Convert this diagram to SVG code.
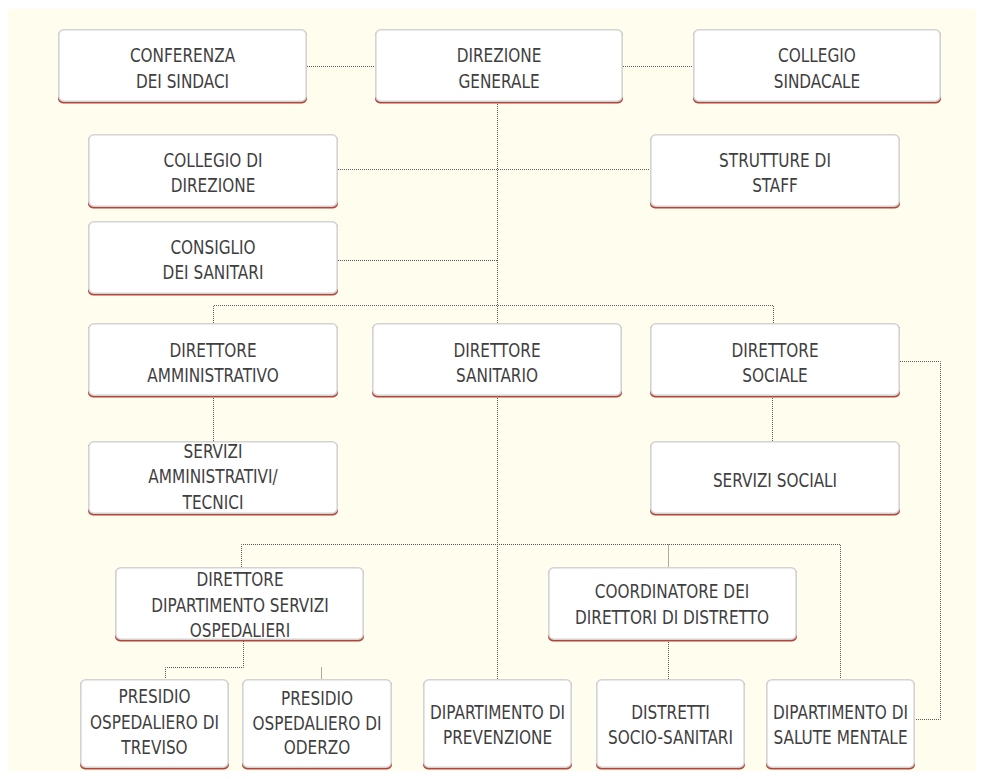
<svg xmlns="http://www.w3.org/2000/svg" width="984" height="779" viewBox="0 0 984 779">
<defs>
<style>
.bg{fill:#fffdee}
.sh{fill:#b4453b}
.bx{fill:#ffffff;stroke:#d3d3d3;stroke-width:1.6}
.t{font-family:"DejaVu Sans Condensed","DejaVu Sans",sans-serif;font-stretch:condensed;font-size:20px;fill:#3f3f3f;text-anchor:middle}
.c{fill:none;stroke:#5a5a5a;stroke-width:1;stroke-dasharray:1 1}
</style>
</defs>
<rect x="0" y="0" width="984" height="779" fill="#ffffff"/>
<rect class="bg" x="8" y="9" width="968" height="762"/>
<g id="connectors">
<path class="c" d="M307 66.5H375M623 66.5H693"/>
<path class="c" d="M497.5 102V679"/>
<path class="c" d="M338 169.5H650M338 260.5H497"/>
<path class="c" d="M213.5 323V305.5H773.5V323"/>
<path class="c" d="M213.5 398V441M772.5 398V441"/>
<path class="c" d="M900 361.5H940.5V719.5H915"/>
<path class="c" d="M241.5 567V544.5H840.5V679M668.5 544.5V567"/>
<path class="c" d="M243.5 641V667.5H165.5V679M321.5 667.5V679"/>
<path class="c" d="M668.5 640V679"/>
</g>
<g id="conferenza">
<rect class="sh" x="58" y="30.5" width="249" height="73" rx="5"/>
<rect class="bx" x="58.8" y="29.8" width="247.4" height="71.4" rx="5"/>
<g transform="translate(182.5 0) scale(0.85 1)"><text class="t" x="0" y="62">CONFERENZA</text><text class="t" x="0" y="88">DEI SINDACI</text></g>
</g>
<g id="direzione-generale">
<rect class="sh" x="375" y="30.5" width="248" height="73" rx="5"/>
<rect class="bx" x="375.8" y="29.8" width="246.4" height="71.4" rx="5"/>
<g transform="translate(499 0) scale(0.85 1)"><text class="t" x="0" y="62">DIREZIONE</text><text class="t" x="0" y="88">GENERALE</text></g>
</g>
<g id="collegio-sindacale">
<rect class="sh" x="693" y="30.5" width="248" height="73" rx="5"/>
<rect class="bx" x="693.8" y="29.8" width="246.4" height="71.4" rx="5"/>
<g transform="translate(817 0) scale(0.85 1)"><text class="t" x="0" y="62">COLLEGIO</text><text class="t" x="0" y="88">SINDACALE</text></g>
</g>
<g id="collegio-direzione">
<rect class="sh" x="88" y="135.5" width="250" height="73" rx="5"/>
<rect class="bx" x="88.8" y="134.8" width="248.4" height="71.4" rx="5"/>
<g transform="translate(213 0) scale(0.85 1)"><text class="t" x="0" y="167">COLLEGIO DI</text><text class="t" x="0" y="192">DIREZIONE</text></g>
</g>
<g id="strutture-staff">
<rect class="sh" x="650" y="135.5" width="250" height="73" rx="5"/>
<rect class="bx" x="650.8" y="134.8" width="248.4" height="71.4" rx="5"/>
<g transform="translate(775 0) scale(0.85 1)"><text class="t" x="0" y="167">STRUTTURE DI</text><text class="t" x="0" y="192">STAFF</text></g>
</g>
<g id="consiglio-sanitari">
<rect class="sh" x="88" y="222.5" width="250" height="73" rx="5"/>
<rect class="bx" x="88.8" y="221.8" width="248.4" height="71.4" rx="5"/>
<g transform="translate(213 0) scale(0.85 1)"><text class="t" x="0" y="254">CONSIGLIO</text><text class="t" x="0" y="279">DEI SANITARI</text></g>
</g>
<g id="direttore-amministrativo">
<rect class="sh" x="88" y="324.5" width="250" height="73" rx="5"/>
<rect class="bx" x="88.8" y="323.8" width="248.4" height="71.4" rx="5"/>
<g transform="translate(213 0) scale(0.85 1)"><text class="t" x="0" y="357">DIRETTORE</text><text class="t" x="0" y="382">AMMINISTRATIVO</text></g>
</g>
<g id="direttore-sanitario">
<rect class="sh" x="372" y="324.5" width="250" height="73" rx="5"/>
<rect class="bx" x="372.8" y="323.8" width="248.4" height="71.4" rx="5"/>
<g transform="translate(497 0) scale(0.85 1)"><text class="t" x="0" y="357">DIRETTORE</text><text class="t" x="0" y="382">SANITARIO</text></g>
</g>
<g id="direttore-sociale">
<rect class="sh" x="650" y="324.5" width="250" height="73" rx="5"/>
<rect class="bx" x="650.8" y="323.8" width="248.4" height="71.4" rx="5"/>
<g transform="translate(775 0) scale(0.85 1)"><text class="t" x="0" y="357">DIRETTORE</text><text class="t" x="0" y="382">SOCIALE</text></g>
</g>
<g id="servizi-amministrativi">
<rect class="sh" x="88" y="442.5" width="250" height="73" rx="5"/>
<rect class="bx" x="88.8" y="441.8" width="248.4" height="71.4" rx="5"/>
<g transform="translate(213 0) scale(0.85 1)"><text class="t" x="0" y="458">SERVIZI</text><text class="t" x="0" y="483">AMMINISTRATIVI/</text><text class="t" x="0" y="509">TECNICI</text></g>
</g>
<g id="servizi-sociali">
<rect class="sh" x="650" y="442.5" width="250" height="73" rx="5"/>
<rect class="bx" x="650.8" y="441.8" width="248.4" height="71.4" rx="5"/>
<g transform="translate(775 0) scale(0.85 1)"><text class="t" x="0" y="487">SERVIZI SOCIALI</text></g>
</g>
<g id="direttore-dso">
<rect class="sh" x="115" y="568.5" width="249" height="73" rx="5"/>
<rect class="bx" x="115.8" y="567.8" width="247.4" height="71.4" rx="5"/>
<g transform="translate(240 0) scale(0.85 1)"><text class="t" x="0" y="586">DIRETTORE</text><text class="t" x="0" y="612">DIPARTIMENTO SERVIZI</text><text class="t" x="0" y="637">OSPEDALIERI</text></g>
</g>
<g id="coordinatore">
<rect class="sh" x="548" y="568.5" width="249" height="73" rx="5"/>
<rect class="bx" x="548.8" y="567.8" width="247.4" height="71.4" rx="5"/>
<g transform="translate(672 0) scale(0.85 1)"><text class="t" x="0" y="598">COORDINATORE DEI</text><text class="t" x="0" y="624">DIRETTORI DI DISTRETTO</text></g>
</g>
<g id="presidio-treviso">
<rect class="sh" x="80" y="680.5" width="149" height="89" rx="5"/>
<rect class="bx" x="80.8" y="679.8" width="147.4" height="87.4" rx="5"/>
<g transform="translate(154.5 0) scale(0.85 1)"><text class="t" x="0" y="703">PRESIDIO</text><text class="t" x="0" y="729">OSPEDALIERO DI</text><text class="t" x="0" y="754">TREVISO</text></g>
</g>
<g id="presidio-oderzo">
<rect class="sh" x="242" y="680.5" width="150" height="89" rx="5"/>
<rect class="bx" x="242.8" y="679.8" width="148.4" height="87.4" rx="5"/>
<g transform="translate(317 0) scale(0.85 1)"><text class="t" x="0" y="705">PRESIDIO</text><text class="t" x="0" y="730">OSPEDALIERO DI</text><text class="t" x="0" y="754">ODERZO</text></g>
</g>
<g id="prevenzione">
<rect class="sh" x="423" y="680.5" width="149" height="89" rx="5"/>
<rect class="bx" x="423.8" y="679.8" width="147.4" height="87.4" rx="5"/>
<g transform="translate(497.5 0) scale(0.85 1)"><text class="t" x="0" y="719">DIPARTIMENTO DI</text><text class="t" x="0" y="744">PREVENZIONE</text></g>
</g>
<g id="distretti">
<rect class="sh" x="596" y="680.5" width="149" height="89" rx="5"/>
<rect class="bx" x="596.8" y="679.8" width="147.4" height="87.4" rx="5"/>
<g transform="translate(670.5 0) scale(0.85 1)"><text class="t" x="0" y="719">DISTRETTI</text><text class="t" x="0" y="744">SOCIO-SANITARI</text></g>
</g>
<g id="salute-mentale">
<rect class="sh" x="766" y="680.5" width="149" height="89" rx="5"/>
<rect class="bx" x="766.8" y="679.8" width="147.4" height="87.4" rx="5"/>
<g transform="translate(840.5 0) scale(0.85 1)"><text class="t" x="0" y="719">DIPARTIMENTO DI</text><text class="t" x="0" y="744">SALUTE MENTALE</text></g>
</g>
</svg>
